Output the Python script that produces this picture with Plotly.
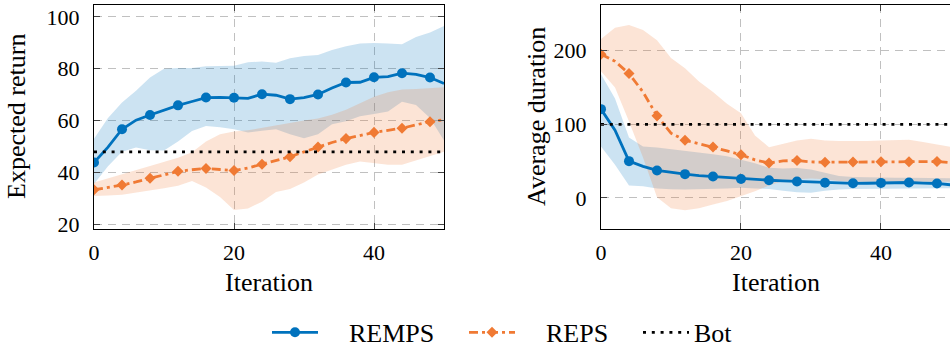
import plotly.graph_objects as go

# ---------------- data ----------------
iters = list(range(0, 51, 2))

# Left panel: Expected return
remps_ret = [43.9, 49.8, 56.7, 60.2, 62.2, 64.2, 65.9, 67.4, 68.9, 69.0, 68.8, 68.6, 70.2,
             69.8, 68.3, 68.9, 70.1, 72.6, 74.7, 74.8, 76.7, 77.0, 78.3, 77.8, 76.6, 74.3]
remps_ret_hi = [53.0, 61.0, 67.0, 71.5, 76.6, 80.0, 80.3, 80.3, 81.0, 81.0, 81.2, 82.5, 82.8,
                82.3, 84.0, 84.9, 85.3, 87.2, 88.7, 89.7, 89.9, 89.7, 89.4, 92.2, 94.0, 96.5]
remps_ret_lo = [35.6, 42.5, 48.0, 49.7, 48.6, 48.5, 52.0, 56.0, 58.0, 57.5, 56.7, 55.5, 56.1,
                56.7, 54.8, 53.2, 54.8, 58.6, 59.8, 61.7, 62.6, 63.5, 67.3, 66.0, 61.0, 52.4]
reps_ret = [33.4, 34.3, 35.2, 36.4, 37.8, 39.2, 40.5, 41.1, 41.6, 41.2, 40.8, 41.8, 43.2,
            44.6, 46.1, 48.0, 49.9, 51.6, 53.1, 54.4, 55.5, 56.3, 57.1, 58.4, 59.6, 60.4]
reps_ret_hi = [36.2, 37.8, 39.3, 40.9, 42.4, 44.0, 45.7, 47.8, 52.0, 54.8, 55.8, 56.3, 57.3,
               58.3, 59.2, 60.1, 60.8, 62.3, 64.2, 66.7, 69.2, 71.0, 72.0, 72.2, 72.5, 72.9]
reps_ret_lo = [31.0, 31.2, 31.5, 32.3, 33.1, 34.0, 34.9, 36.8, 34.3, 30.6, 25.6, 26.2, 28.8,
               32.5, 33.7, 36.2, 39.3, 41.2, 43.0, 44.3, 43.7, 43.0, 43.0, 44.9, 46.4, 48.0]
bot_ret = 48.0

# Right panel: Average duration
remps_dur = [120.6, 92.0, 50.0, 43.0, 37.4, 34.5, 32.4, 30.5, 29.2, 27.6, 25.8, 25.0, 24.1,
             23.2, 22.4, 22.4, 20.8, 20.6, 19.9, 20.0, 20.5, 20.8, 21.0, 20.2, 19.7, 17.8]
remps_dur_hi = [168, 135, 82, 70, 68.5, 66.5, 64.5, 62, 59.5, 56.5, 52, 47, 41,
                40, 40.8, 38.6, 34.2, 29.8, 28.5, 28, 27.6, 27.6, 27.6, 27.6, 27.6, 26.8]
remps_dur_lo = [70, 45, 17, 16, 13, 12, 11.4, 11.4, 12.3, 13, 14, 13, 12.3,
                10, 7.9, 7, 10, 11.4, 12.3, 12.3, 12.3, 12.8, 13.2, 13.2, 13.2, 13.2]
reps_dur = [195.2, 185.5, 168.9, 143.9, 111.5, 88.0, 78.3, 73.7, 69.2, 64.0, 58.6, 51.8, 47.4,
            50.4, 50.9, 49.0, 48.5, 48.7, 48.8, 49.2, 49.3, 49.2, 49.2, 49.4, 49.5, 48.0]
reps_dur_hi = [216, 231, 235, 228, 214, 190, 176, 158, 144, 128, 115, 85, 69,
               73.7, 78, 80.3, 78, 77.5, 77.2, 77.5, 78, 78.5, 79, 75.9, 72.8, 69.3]
reps_dur_lo = [172, 150, 104, 55, 1, -14, -16.5, -14, -9, -4, 2, 9, 17,
               23.2, 25.4, 26.3, 25.4, 23.2, 21.9, 21.9, 21.9, 22, 22, 22, 22, 22]
bot_dur = 100.0

xticks = [0, 20, 40]
yticks_ret = [20, 40, 60, 80, 100]
yticks_dur = [0, 100, 200]

# ---------------- styles ----------------
BLUE = "rgb(0,114,189)"
ORANGE = "rgb(240,122,52)"
BLUE_BAND = "rgba(0,114,189,0.2)"
ORANGE_BAND = "rgba(240,122,52,0.2)"
FONT = "Liberation Serif"
REPS_DASH = "9px,4px,3px,4px"
BOT_DASH = "3px,5.8px"
LW = 2.8
NB = "\u00a0"

fig = go.Figure()


def band(x, hi, lo, color, xa, ya):
    fig.add_trace(go.Scatter(x=list(x) + list(x)[::-1], y=list(hi) + list(lo)[::-1],
                             fill="toself", fillcolor=color, line=dict(width=0),
                             mode="lines", showlegend=False, hoverinfo="skip",
                             xaxis=xa, yaxis=ya))


def series(x, y, color, dash, symbol, msize, xa, ya):
    fig.add_trace(go.Scatter(x=x, y=y, mode="lines",
                             line=dict(color=color, width=LW, dash=dash),
                             showlegend=False, xaxis=xa, yaxis=ya))
    fig.add_trace(go.Scatter(x=x[::2], y=y[::2], mode="markers",
                             marker=dict(color=color, size=msize, symbol=symbol,
                                         line=dict(width=0)),
                             showlegend=False, xaxis=xa, yaxis=ya))


for xa, ya, rm, rm_hi, rm_lo, rp, rp_hi, rp_lo, bot in [
    ("x", "y", remps_ret, remps_ret_hi, remps_ret_lo, reps_ret, reps_ret_hi, reps_ret_lo, bot_ret),
    ("x2", "y2", remps_dur, remps_dur_hi, remps_dur_lo, reps_dur, reps_dur_hi, reps_dur_lo, bot_dur),
]:
    band(iters, rm_hi, rm_lo, BLUE_BAND, xa, ya)
    band(iters, rp_hi, rp_lo, ORANGE_BAND, xa, ya)
    series(iters, rm, BLUE, "solid", "circle", 10, xa, ya)
    series(iters, rp, ORANGE, REPS_DASH, "diamond", 8.5, xa, ya)
    fig.add_trace(go.Scatter(x=[iters[0], iters[-1]], y=[bot, bot], mode="lines",
                             line=dict(color="black", width=LW, dash=BOT_DASH),
                             showlegend=False, xaxis=xa, yaxis=ya))

# legend entries (one legend each, for exact placement)
fig.add_trace(go.Scatter(x=[None], y=[None], mode="lines+markers", name=NB * 4 + "REMPS",
                         line=dict(color=BLUE, width=LW),
                         marker=dict(color=BLUE, size=10, symbol="circle"),
                         legend="legend"))
fig.add_trace(go.Scatter(x=[None], y=[None], mode="lines+markers", name=NB * 4 + "REPS",
                         line=dict(color=ORANGE, width=LW, dash=REPS_DASH),
                         marker=dict(color=ORANGE, size=8.5, symbol="diamond"),
                         legend="legend2"))
fig.add_trace(go.Scatter(x=[None], y=[None], mode="lines", name="Bot",
                         line=dict(color="black", width=LW, dash=BOT_DASH),
                         legend="legend3"))

W, H = 950, 356
ytop, ybot = 5.3, 236.0
ydom = [(H - ybot) / H, (H - ytop) / H]

axis_common = dict(showgrid=True, gridcolor="rgb(192,192,192)", gridwidth=1,
                   griddash="8px,6px", showline=True, linecolor="black", linewidth=1.2,
                   ticks="inside", ticklen=6, tickcolor="#444", tickwidth=1,
                   zeroline=False,
                   tickfont=dict(family=FONT, size=22, color="black"))

legend_common = dict(y=(H - 343) / H, xanchor="left", yanchor="middle",
                     bgcolor="rgba(0,0,0,0)", itemwidth=46,
                     font=dict(family=FONT, size=26, color="black"))

fig.update_layout(
    template="none",
    font=dict(family=FONT, size=22, color="black"),
    width=W, height=H, margin=dict(l=0, r=0, t=0, b=0),
    paper_bgcolor="white", plot_bgcolor="white",
    xaxis=dict(domain=[94 / W, 444 / W], range=[0, 50], tickvals=xticks,
               mirror="allticks", anchor="y", ticklabelstandoff=4, **axis_common),
    yaxis=dict(domain=ydom, range=[18.4, 104.5], tickvals=yticks_ret,
               mirror="allticks", anchor="x", ticklabelstandoff=9, **axis_common),
    xaxis2=dict(domain=[601 / W, 1.0], range=[0, 49.86], tickvals=xticks,
                mirror="allticks", anchor="y2", ticklabelstandoff=4, **axis_common),
    yaxis2=dict(domain=ydom, range=[-41.7, 261.8], tickvals=yticks_dur,
                mirror=False, anchor="x2", ticklabelstandoff=9, **axis_common),
    legend=dict(x=267 / W, **legend_common),
    legend2=dict(x=464 / W, **legend_common),
    legend3=dict(x=638 / W, **legend_common),
    showlegend=True,
)

title_font = dict(family=FONT, size=26, color="black")
yc = (H - (ytop + ybot) / 2) / H
fig.add_annotation(text="Expected return", x=17 / W, y=yc, xref="paper", yref="paper",
                   textangle=-90, showarrow=False, font=title_font,
                   xanchor="center", yanchor="middle")
fig.add_annotation(text="Average duration", x=537 / W, y=yc, xref="paper", yref="paper",
                   textangle=-90, showarrow=False, font=title_font,
                   xanchor="center", yanchor="middle")
fig.add_annotation(text="Iteration", x=269 / W, y=(H - 291) / H, xref="paper", yref="paper",
                   showarrow=False, font=title_font, xanchor="center", yanchor="middle")
fig.add_annotation(text="Iteration", x=776 / W, y=(H - 291) / H, xref="paper", yref="paper",
                   showarrow=False, font=title_font, xanchor="center", yanchor="middle")

fig.write_html("out.html")
